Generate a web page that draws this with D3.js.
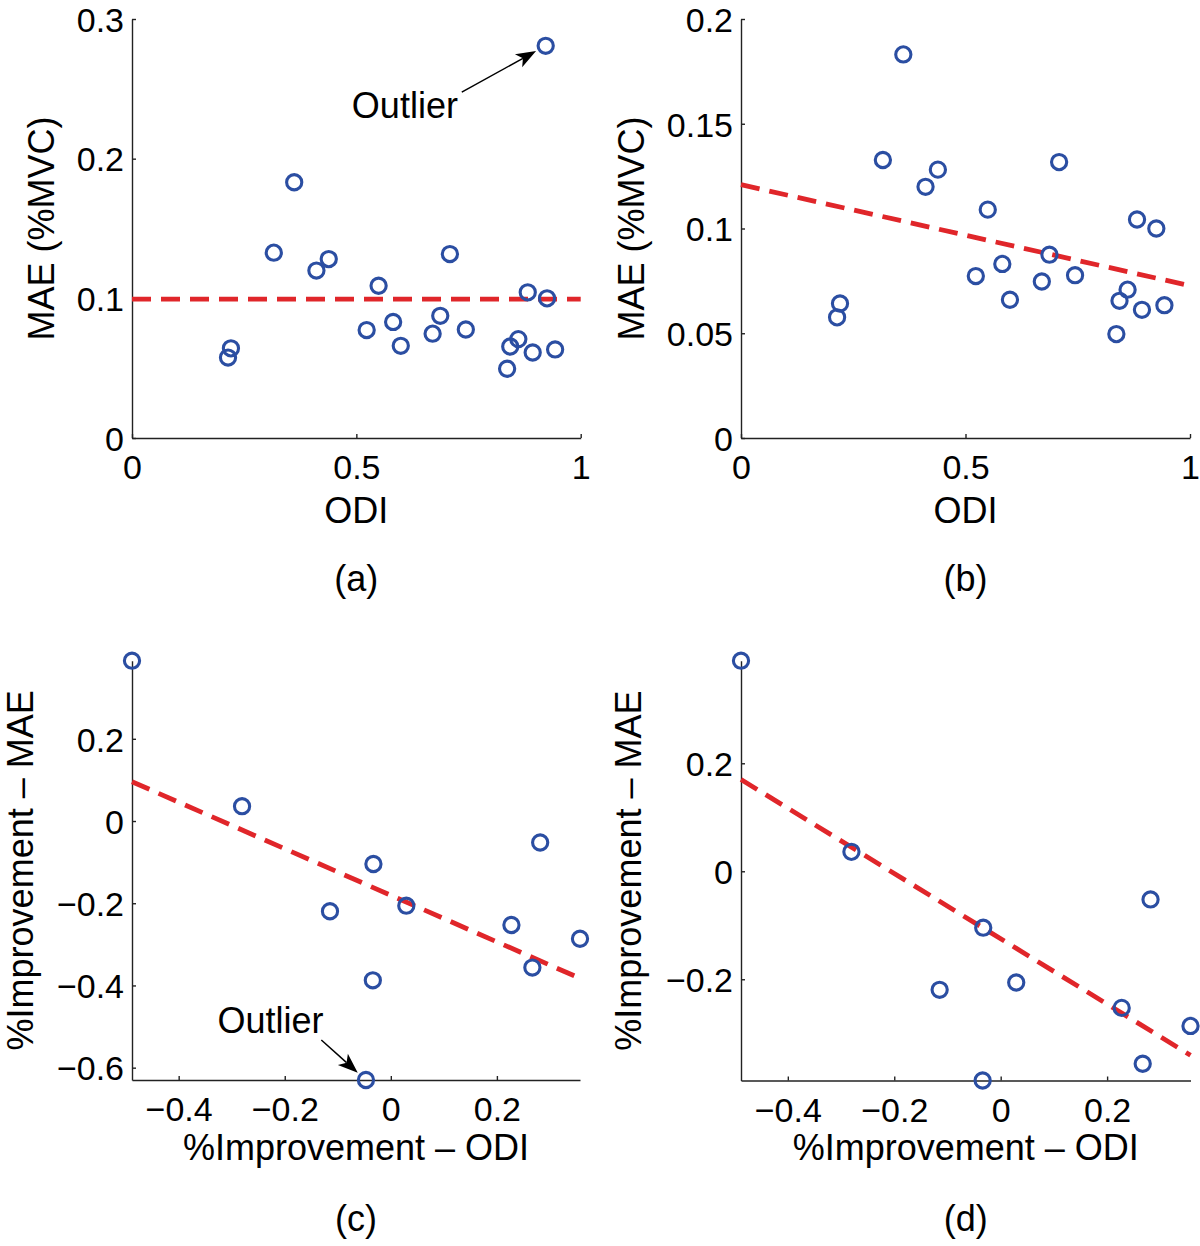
<!DOCTYPE html>
<html>
<head>
<meta charset="utf-8">
<script src="https://cdn.jsdelivr.net/npm/d3@7"></script>
<style>
  html, body { margin: 0; padding: 0; background: #fff; }
  svg { display: block; font-family: "Liberation Sans", Arial, Helvetica, sans-serif; }
</style>
</head>
<body>
<svg id="chart" width="1200" height="1246"></svg>
<script>
// ---------- data ----------
// Panels (a)/(b): ODI vs MAE (%MVC)
const odi = [0.214, 0.2205, 0.316, 0.3615, 0.411, 0.4385, 0.523, 0.5496, 0.582, 0.599, 0.670,
             0.687, 0.7085, 0.744, 0.836, 0.843, 0.861, 0.882, 0.893, 0.922, 0.925, 0.943];
const mae = [0.0576, 0.0642, 0.1327, 0.1831, 0.1199, 0.1281, 0.0773, 0.109, 0.0831, 0.066, 0.0747,
             0.0875, 0.1317, 0.0777, 0.0496, 0.0655, 0.0708, 0.1043, 0.0612, 0.2808, 0.1000, 0.0634];
const outlierAB = 19;              // index of the outlier removed in (b)

// Panels (c)/(d): %Improvement ODI vs %Improvement MAE
const impODI = [-0.488, -0.2805, -0.1147, -0.0328, -0.0339, -0.0469, 0.0292, 0.2274, 0.2669, 0.2816, 0.3567];
const impMAE = [0.390, 0.036, -0.2195, -0.1045, -0.3875, -0.630, -0.206, -0.253, -0.3565, -0.0522, -0.2864];
const outlierCD = 5;               // index of the outlier removed in (d)

// fitted lines: y at left and right ends of the x-range
const fitA = [0.0995, 0.0995];
const fitB = [0.1209, 0.0727];
const fitC = [0.0957, -0.3827];
const fitD = [0.170, -0.3407];

// tick values
const xTicksTop = [0, 0.5, 1];
const yTicksA = [0, 0.1, 0.2, 0.3];
const yTicksB = [0, 0.05, 0.1, 0.15, 0.2];
const xTicksBottom = [-0.4, -0.2, 0, 0.2];
const yTicksC = [-0.6, -0.4, -0.2, 0, 0.2];
const yTicksD = [-0.2, 0, 0.2];

// text
const panelLetters = ["(a)", "(b)", "(c)", "(d)"];
const xLabelTop = "ODI";
const yLabelTop = "MAE (%MVC)";
const xLabelBottom = "%Improvement \u2013 ODI";
const yLabelBottom = "%Improvement \u2013 MAE";
const outlierText = "Outlier";

// ---------- drawing ----------
const svg = d3.select("#chart");
const BLUE = "#2b4ea2", RED = "#e0262a";
const TICK_FS = 34, LABEL_FS = 36;
const fmt = d3.format("~g");

const absentIdx = (arr, idx) => arr.filter((_, i) => i !== idx);

function panel(cfg) {
  const x = d3.scaleLinear().domain(cfg.xDomain).range([cfg.left, cfg.right]);
  const y = d3.scaleLinear().domain(cfg.yDomain).range([cfg.bottom, cfg.top]);
  const g = svg.append("g");

  const xAxis = d3.axisBottom(x).tickValues(cfg.xTicks).tickFormat(fmt)
    .tickSizeInner(-4).tickSizeOuter(0).tickPadding(17);
  const yAxis = d3.axisLeft(y).tickValues(cfg.yTicks).tickFormat(fmt)
    .tickSizeInner(-4).tickSizeOuter(0).tickPadding(8);

  const gx = g.append("g").attr("transform", `translate(0,${cfg.bottom})`).call(xAxis);
  const gy = g.append("g").attr("transform", `translate(${cfg.left},0)`).call(yAxis);
  [gx, gy].forEach(a => {
    a.selectAll("path.domain").attr("stroke", "#222").attr("stroke-width", 1.4);
    a.selectAll(".tick line").attr("stroke", "#222").attr("stroke-width", 1.4);
    a.selectAll(".tick text").attr("fill", "#000").style("font-size", TICK_FS + "px")
      .style("font-family", "'Liberation Sans', Arial, Helvetica, sans-serif");
  });
  gy.selectAll(".tick text").attr("dy", "0.36em");

  // fitted dashed line
  const xd = x.domain();
  const lineData = [[xd[0], cfg.fit[0]], [xd[1], cfg.fit[1]]];
  g.append("path")
    .attr("d", d3.line().x(d => x(d[0])).y(d => y(d[1]))(lineData))
    .attr("fill", "none").attr("stroke", RED).attr("stroke-width", 4.8)
    .attr("stroke-dasharray", "19,10");

  // points
  const pts = cfg.xs.map((v, i) => [v, cfg.ys[i]]);
  g.append("g").selectAll("circle").data(pts).join("circle")
    .attr("cx", d => x(d[0])).attr("cy", d => y(d[1])).attr("r", 7.6)
    .attr("fill", "none").attr("stroke", BLUE).attr("stroke-width", 3.1);

  // axis labels
  const cx = (cfg.left + cfg.right) / 2, cy = (cfg.top + cfg.bottom) / 2;
  g.append("text").attr("x", cx).attr("y", cfg.xLabelY).attr("text-anchor", "middle")
    .style("font-size", LABEL_FS + "px").text(cfg.xLabel);
  g.append("text").attr("transform", `translate(${cfg.yLabelX},${cy}) rotate(-90)`)
    .attr("text-anchor", "middle").style("font-size", LABEL_FS + "px").text(cfg.yLabel);
  g.append("text").attr("x", cx).attr("y", cfg.letterY).attr("text-anchor", "middle")
    .style("font-size", LABEL_FS + "px").text(cfg.letter);

  // outlier annotation
  if (cfg.annot) {
    const a = cfg.annot;
    const px = x(a.point[0]), py = y(a.point[1]);
    const sx = x(a.start[0]), sy = y(a.start[1]);
    const dx = px - sx, dy = py - sy, len = Math.hypot(dx, dy);
    const ux = dx / len, uy = dy / len;
    const tx = px - ux * 11, ty = py - uy * 11;      // tip just outside the circle
    const headL = 20, headW = 7.5;
    const bx = tx - ux * headL, by = ty - uy * headL;
    g.append("line").attr("x1", sx).attr("y1", sy).attr("x2", bx + ux * 5).attr("y2", by + uy * 5)
      .attr("stroke", "#000").attr("stroke-width", 1.5);
    g.append("path")
      .attr("d", `M${tx},${ty} L${bx - uy * headW},${by + ux * headW} L${bx + ux * 5},${by + uy * 5} L${bx + uy * headW},${by - ux * headW} Z`)
      .attr("fill", "#000");
    g.append("text").attr("x", x(a.text[0])).attr("y", y(a.text[1]))
      .style("font-size", LABEL_FS + "px").text(outlierText);
  }
}

// (a)
panel({
  left: 132, right: 580.7, top: 19, bottom: 438,
  xDomain: [0, 1], yDomain: [0, 0.3], xTicks: xTicksTop, yTicks: yTicksA,
  xs: odi, ys: mae, fit: fitA,
  xLabel: xLabelTop, yLabel: yLabelTop, xLabelY: 523, yLabelX: 54,
  letter: panelLetters[0], letterY: 591,
  annot: { point: [odi[outlierAB], mae[outlierAB]], start: [0.735, 0.2477], text: [0.49, 0.229] }
});
// (b)
panel({
  left: 741, right: 1190, top: 19, bottom: 438,
  xDomain: [0, 1], yDomain: [0, 0.2], xTicks: xTicksTop, yTicks: yTicksB,
  xs: absentIdx(odi, outlierAB), ys: absentIdx(mae, outlierAB), fit: fitB,
  xLabel: xLabelTop, yLabel: yLabelTop, xLabelY: 523, yLabelX: 644,
  letter: panelLetters[1], letterY: 591
});
// (c)
panel({
  left: 132, right: 580, top: 660.7, bottom: 1080,
  xDomain: d3.extent(impODI), yDomain: d3.extent(impMAE), xTicks: xTicksBottom, yTicks: yTicksC,
  xs: impODI, ys: impMAE, fit: fitC,
  xLabel: xLabelBottom, yLabel: yLabelBottom, xLabelY: 1160, yLabelX: 33,
  letter: panelLetters[2], letterY: 1231,
  annot: { point: [impODI[outlierCD], impMAE[outlierCD]], start: [-0.131, -0.5327], text: [-0.327, -0.5156] }
});
// (d)
const impODId = absentIdx(impODI, outlierCD), impMAEd = absentIdx(impMAE, outlierCD);
panel({
  left: 741, right: 1190.5, top: 660.7, bottom: 1080.5,
  xDomain: d3.extent(impODId), yDomain: d3.extent(impMAEd), xTicks: xTicksBottom, yTicks: yTicksD,
  xs: impODId, ys: impMAEd, fit: fitD,
  xLabel: xLabelBottom, yLabel: yLabelBottom, xLabelY: 1160, yLabelX: 641,
  letter: panelLetters[3], letterY: 1231
});
</script>
</body>
</html>
